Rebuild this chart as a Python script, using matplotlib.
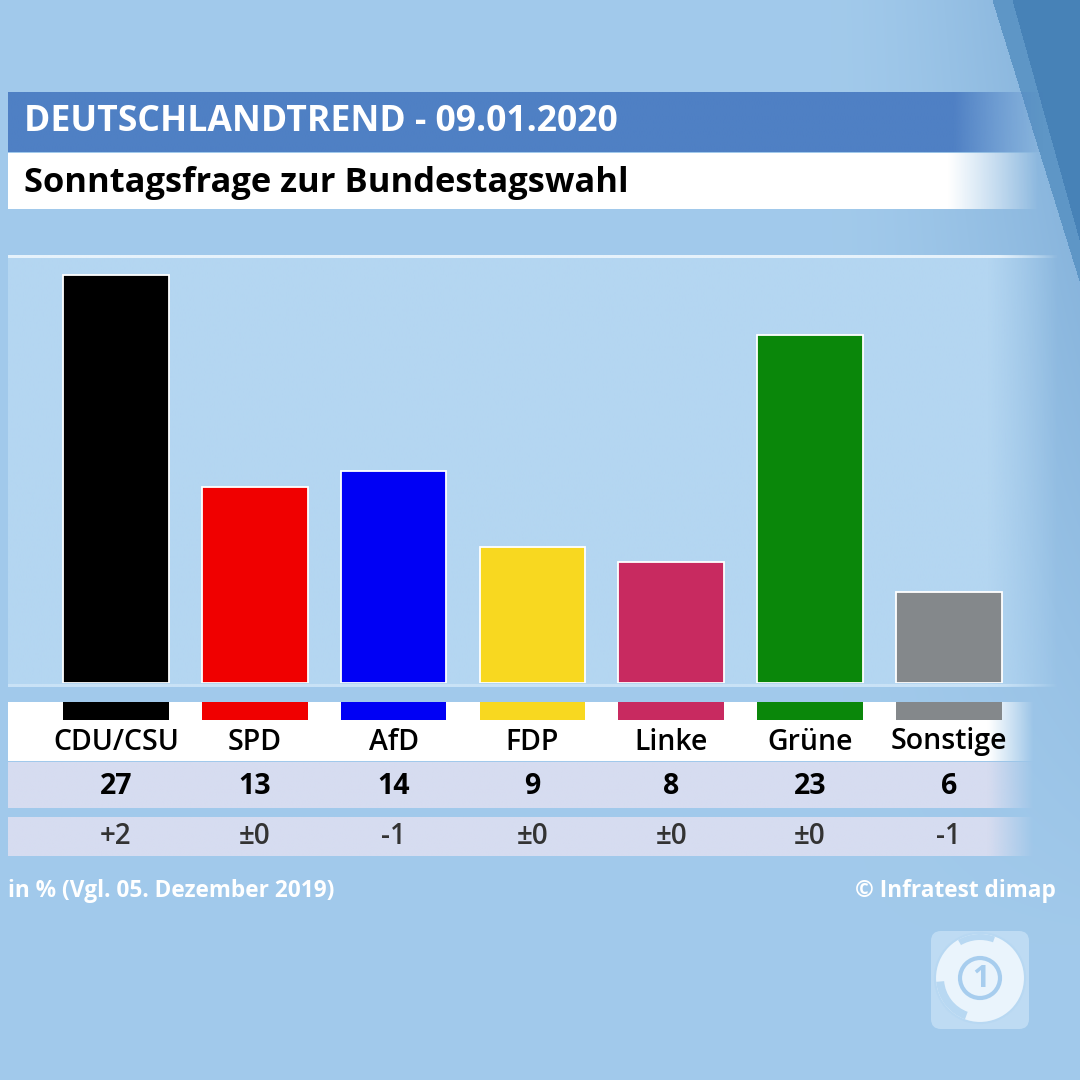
import numpy as np
import matplotlib
matplotlib.use("Agg")
import matplotlib.pyplot as plt
from matplotlib.colors import to_rgb
from matplotlib.patches import FancyBboxPatch, Circle, Wedge

parties = ["CDU/CSU", "SPD", "AfD", "FDP", "Linke", "Grüne", "Sonstige"]
values = [27, 13, 14, 9, 8, 23, 6]
changes = ["+2", "±0", "-1", "±0", "±0", "±0", "-1"]
colors = ["#000000", "#f00000", "#0000f5", "#f8d820", "#c82a60", "#0a870a", "#84888b"]
title = "DEUTSCHLANDTREND - 09.01.2020"
subtitle = "Sonntagsfrage zur Bundestagswahl"
note = "in % (Vgl. 05. Dezember 2019)"
source = "© Infratest dimap"

FONT = ["Open Sans", "DejaVu Sans"]
plt.rcParams['font.family'] = FONT

W = H = 1080
fig = plt.figure(figsize=(10.8, 10.8), dpi=100)
bg = fig.add_axes([0, 0, 1, 1])
bg.set_autoscale_on(False)
bg.set_xlim(0, W)
bg.set_ylim(H, 0)
bg.axis('off')

# background
yy, xx = np.mgrid[0:H, 0:W].astype(float)
img = np.ones((H, W, 3)) * np.array([0.635, 0.792, 0.922])
t = (np.clip((xx - 820) / 260, 0, 1) ** 1.6 * np.clip(1 - yy / 950, 0, 1) * 0.6)[..., None]
img = img * (1 - t) + np.array([0.40, 0.60, 0.79]) * t
m1 = xx > 992 + 0.31 * yy
img[m1] = np.array([0.37, 0.59, 0.78])
m2 = xx > 1012 + 0.28 * yy
img[m2] = np.array([0.28, 0.51, 0.72])
bg.imshow(img, extent=(0, W, H, 0), aspect='auto', zorder=0)


def hband(x0, x1, y0, y1, color, f0, f1, z, alpha=1.0):
    n = 400
    xs_ = np.linspace(x0, x1, n)
    a = np.clip((f1 - xs_) / (f1 - f0), 0, 1) * alpha
    rgba = np.zeros((1, n, 4))
    rgba[..., :3] = to_rgb(color)
    rgba[..., 3] = a
    bg.imshow(rgba, extent=(x0, x1, y1, y0), aspect='auto',
              interpolation='bilinear', zorder=z)


# header
hband(8, 1045, 92, 152, '#4f80c4', 955, 1045, 2)
hband(8, 1040, 153, 209, '#ffffff', 950, 1040, 2)
bg.text(24, 122, title, color='white', fontsize=25.6, fontweight='bold',
        va='center', ha='left', zorder=5)
bg.text(24, 183, subtitle, color='black', fontsize=24.8, fontweight='bold',
        va='center', ha='left', zorder=5)

# chart panel
hband(8, 1060, 256, 686, '#b4d6f1', 990, 1060, 1)
hband(8, 1060, 255, 258, '#e6f2fb', 1000, 1060, 2)
hband(8, 1060, 684, 687, '#c9e2f6', 1000, 1060, 2)

# table rows
hband(8, 1040, 702, 761, '#ffffff', 990, 1035, 1)
hband(8, 1040, 762, 808, '#d6dcf0', 990, 1035, 1)
hband(8, 1040, 817, 856, '#d6dcf0', 990, 1035, 1)

# footer
bg.text(8, 891, note, color='white', fontsize=16.3, fontweight='bold',
        va='center', ha='left', zorder=5)
bg.text(1056, 891, source, color='white', fontsize=16.3, fontweight='bold',
        va='center', ha='right', zorder=5)

# logo
bg.add_patch(FancyBboxPatch((931, 931), 98, 98,
                            boxstyle="round,pad=0,rounding_size=10",
                            fc='#c4dff5', ec='none', alpha=0.85, zorder=3))
bg.add_patch(Circle((980, 978), 45, fc='#eaf4fc', ec='#b8d8f2', lw=1.5, zorder=4))
bg.add_patch(Wedge((980, 978), 44, 110, 175, width=8, fc='#b8d8f2', ec='none', zorder=4.5))
bg.add_patch(Wedge((980, 978), 44, 240, 290, width=6, fc='#b8d8f2', ec='none', zorder=4.5))
bg.add_patch(Circle((980, 978), 20, fc='#eaf4fc', ec='#a7cdee', lw=3, zorder=5))
bg.text(981, 979, "1", color='#a7cdee', fontsize=22, fontweight='bold',
        ha='center', va='center', zorder=6)

# bars
xs = np.arange(len(parties))
xlim = (-0.778, 6.729)
ax = fig.add_axes([8 / W, (H - 683) / H, (1050 - 8) / W, (683 - 256) / H])
ax.patch.set_alpha(0)
ax.bar(xs, values, width=0.76, color=colors, edgecolor='white', linewidth=1.3, zorder=3)
ax.set_xlim(*xlim)
ax.set_ylim(0, 28.26)
ax.axis('off')

# table overlay
tab = fig.add_axes([8 / W, 0, (1050 - 8) / W, 1])
tab.patch.set_alpha(0)
tab.set_xlim(*xlim)
tab.set_ylim(H, 0)
tab.axis('off')
tab.bar(xs, 18, bottom=702, width=0.76, color=colors, zorder=3)
for i in xs:
    tab.text(i, 742, parties[i], ha='center', va='center', fontsize=20.5,
             fontweight='semibold', color='black', zorder=4)
    tab.text(i, 786, str(values[i]), ha='center', va='center', fontsize=20.5,
             fontweight='bold', color='black', zorder=4)
    tab.text(i, 837, changes[i], ha='center', va='center', fontsize=20,
             fontweight='semibold', color='#333333', zorder=4)

fig.savefig("out.png", dpi=100)
